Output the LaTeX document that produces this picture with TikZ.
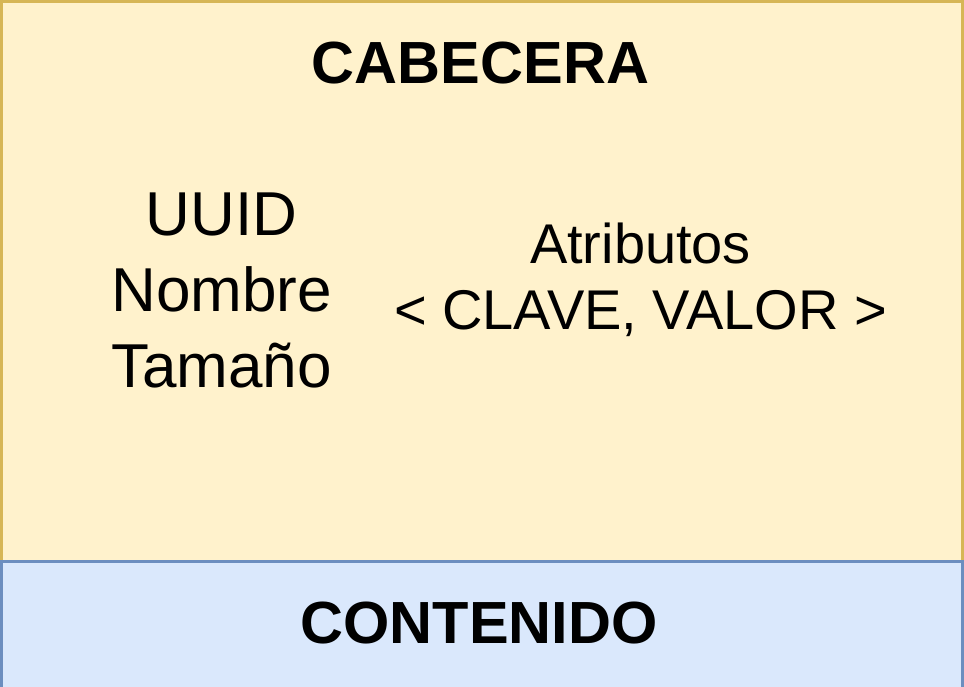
\documentclass[tikz,border=0pt]{standalone}
\usepackage{fontspec}
\setmainfont{Liberation Sans}
\definecolor{yfill}{HTML}{FFF2CC}
\definecolor{ydraw}{HTML}{D6B656}
\definecolor{bfill}{HTML}{DAE8FC}
\definecolor{bdraw}{HTML}{6C8EBF}
\tikzset{
  boxline/.style={line width=3pt},
  title/.style={inner sep=0pt, anchor=base, font=\fontsize{59.5}{70}\selectfont\bfseries},
  bigtext/.style={inner sep=0pt, anchor=base, font=\fontsize{62}{76}\selectfont},
  midtext/.style={inner sep=0pt, anchor=base, font=\fontsize{56}{66}\selectfont},
}
\begin{document}
\begin{tikzpicture}[x=1pt,y=-1pt]
\useasboundingbox (0,0) rectangle (964,686);
\clip (0,0) rectangle (964,686);
\draw[boxline, draw=ydraw, fill=yfill] (1.5,1.5) rectangle (962.5,561.5);
\draw[boxline, draw=bdraw, fill=bfill] (1.5,561.5) rectangle (962.5,700);
\node[title] (cab) at (480.5,83) {CABECERA};
\node[bigtext] (uuid) at (221.5,235) {UUID};
\node[bigtext] (nom) at (221.5,311) {Nombre};
\node[bigtext] (tam) at (221.5,387) {Tamaño};
\node[midtext] (atr) at (640.5,263) {Atributos};
\node[midtext] (kv) at (640.5,329) {< CLAVE, VALOR >};
\node[title] (cont) at (479,643) {CONTENIDO};
\end{tikzpicture}
\end{document}
